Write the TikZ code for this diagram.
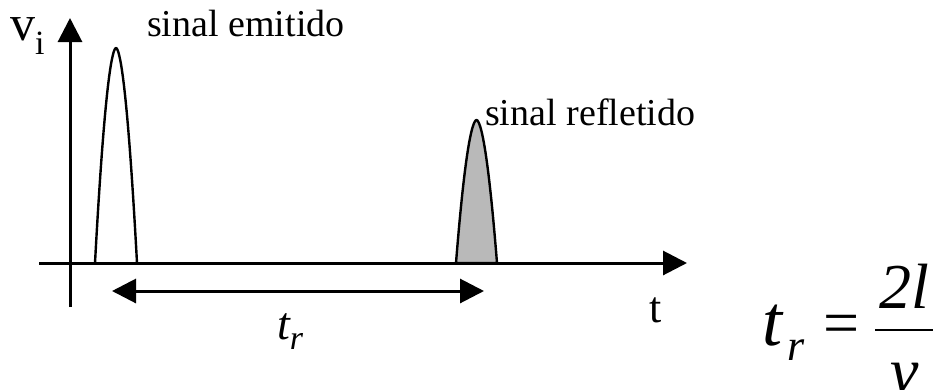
\documentclass[tikz,border=0pt]{standalone}
\usepackage{fontspec}
\setmainfont{Liberation Serif}
\usetikzlibrary{arrows.meta}
\definecolor{pulsegray}{RGB}{185,185,185}
\tikzset{
  axisline/.style={line width=3pt},
  axisarrow/.style={-{Triangle[length=24pt,width=24pt]}},
  dblarrow/.style={{Triangle[length=24pt,width=24pt]}-{Triangle[length=24pt,width=24pt]}},
  pulse/.style={line width=2.4pt, line join=round},
  lbl/.style={inner sep=0pt, anchor=base west, font=\fontsize{38}{42}\selectfont},
  eqn/.style={inner sep=0pt, font=\fontsize{64}{70}\selectfont\itshape}
}
\begin{document}
\begin{tikzpicture}[x=1pt,y=-1pt]
\useasboundingbox (0,0) rectangle (937,389);
% axes
\coordinate (vbot) at (70,307);
\coordinate (vtop) at (70,18);
\coordinate (hleft) at (39,263);
\coordinate (hright) at (687,263);
\draw[axisline,axisarrow] (vbot) -- (vtop);
\draw[axisline,axisarrow] (hleft) -- (hright);
% emitted pulse
\draw[pulse] plot[domain=-21:21,samples=60,smooth] ({116+\x},{263-215*(1-abs(\x/21)^1.8)});
% reflected pulse
\filldraw[pulse,fill=pulsegray] plot[domain=-20.5:20.5,samples=60,smooth] ({476.5+\x},{263-143*(1-abs(\x/20.5)^1.8)}) -- cycle;
% time interval arrow
\coordinate (ta) at (112,291);
\coordinate (tb) at (484,291);
\draw[axisline,dblarrow] (ta) -- (tb);
% labels
\node[lbl, font=\fontsize{50}{56}\selectfont] (vi) at (10,40) {v\raisebox{-0.28em}{\fontsize{34}{38}\selectfont i}};
\node[lbl] (em) at (147,36) {sinal emitido};
\node[lbl] (re) at (485,125) {sinal refletido};
\node[lbl, font=\fontsize{44}{50}\selectfont] (t) at (649,322) {t};
\node[lbl] (tr) at (277,339) {\fontsize{46}{50}\selectfont\itshape t\raisebox{-0.22em}{\fontsize{34}{38}\selectfont r}};
% equation
\node[eqn, anchor=base west, font=\fontsize{72}{78}\selectfont\itshape] (et) at (762,345) {t};
\node[eqn, anchor=base west, font=\fontsize{44}{48}\selectfont\itshape] (er) at (787,360) {r};
\node[eqn, anchor=center, font=\fontsize{64}{70}\selectfont] (eq) at (842,330) {=};
\coordinate (fl) at (875,330);
\coordinate (fr) at (933,330);
\draw[line width=2.8pt] (fl) -- (fr);
\node[eqn, anchor=base] (num) at (904,308) {2l};
\node[eqn, anchor=base] (den) at (905,392) {v};
\end{tikzpicture}
\end{document}
